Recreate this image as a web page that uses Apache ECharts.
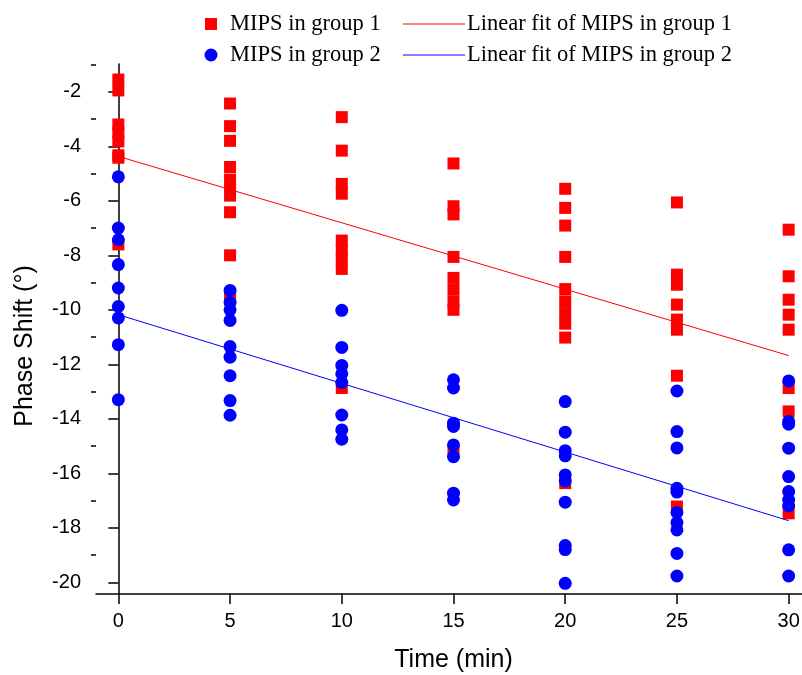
<!DOCTYPE html>
<html>
<head>
<meta charset="utf-8">
<script src="https://cdn.jsdelivr.net/npm/echarts@6/dist/echarts.min.js"></script>
<style>html,body{margin:0;padding:0;background:#fff}#c{width:802px;height:675px}</style>
</head>
<body>
<div id="c"></div>
<script>
const times = [0, 5, 10, 15, 20, 25, 30];
const group1 = [
  [-1.55, -1.95, -3.2, -3.5, -3.82, -4.33, -4.42, -7.6],
  [-2.43, -3.26, -3.8, -4.76, -5.22, -5.53, -5.81, -6.42, -8.0, -9.57],
  [-2.93, -4.16, -5.38, -5.74, -7.46, -7.8, -8.15, -8.5, -12.87],
  [-4.63, -6.2, -6.5, -8.06, -8.83, -9.26, -9.69, -10.0, -15.2],
  [-5.56, -6.26, -6.91, -8.06, -9.24, -9.69, -10.12, -10.51, -11.02, -16.36],
  [-6.06, -8.71, -9.08, -9.81, -10.36, -10.73, -12.42, -17.22],
  [-7.06, -8.77, -9.63, -10.18, -10.73, -12.87, -13.73, -17.47]
];
const group2 = [
  [-5.12, -7.0, -7.43, -8.34, -9.2, -9.88, -10.3, -11.28, -13.3],
  [-9.29, -9.73, -10.0, -10.39, -11.35, -11.74, -12.42, -13.33, -13.87],
  [-10.02, -11.38, -12.04, -12.35, -12.67, -13.86, -14.41, -14.75],
  [-12.57, -12.87, -14.16, -14.28, -14.96, -15.39, -16.73, -16.98],
  [-13.37, -14.49, -15.17, -15.36, -16.06, -16.28, -17.06, -18.65, -18.8, -20.04],
  [-12.98, -14.47, -15.07, -16.55, -16.69, -17.44, -17.81, -18.08, -18.94, -19.77],
  [-12.61, -14.1, -14.2, -15.08, -16.12, -16.67, -16.98, -17.2, -18.81, -19.77]
];
const fitX = [0, 30];
const fit1 = [-4.37, -11.68];
const fit2 = [-10.18, -17.74];
const xTicks = [0, 5, 10, 15, 20, 25, 30];
const yTicks = [-20, -18, -16, -14, -12, -10, -8, -6, -4, -2];
const yMinorTicks = [-19, -17, -15, -13, -11, -9, -7, -5, -3, -1];
const names = ['MIPS in group 1', 'MIPS in group 2', 'Linear fit of MIPS in group 1', 'Linear fit of MIPS in group 2'];

function toPoints(groups) {
  const out = [];
  groups.forEach((vals, i) => vals.forEach(v => out.push([times[i], v])));
  return out;
}

const chart = echarts.init(document.getElementById('c'));
const axisLine = { show: true, lineStyle: { color: '#000', width: 1.5 } };
const tickFont = { fontFamily: 'Liberation Sans, Arial', fontSize: 20, color: '#000' };
const titleFont = { fontFamily: 'Liberation Sans, Arial', fontSize: 25, color: '#000' };
const Y_MIN = -20.43, Y_MAX = -0.98;

const legendFont = { fontFamily: 'Liberation Serif, Times New Roman', fontSize: 22.5, fill: '#000' };
const row1 = 24, row2 = 55;

chart.setOption({
  animation: false,
  backgroundColor: '#fff',
  grid: { left: 96, top: 64, right: -9, bottom: 81, containLabel: false, outerBoundsMode: 'none' },
  xAxis: {
    type: 'value', min: -1, max: 31,
    axisLine: axisLine,
    axisTick: { show: true, length: 10, lineStyle: { color: '#000', width: 1.5 }, customValues: xTicks },
    axisLabel: Object.assign({ margin: 17, customValues: xTicks }, tickFont),
    splitLine: { show: false },
    name: 'Time (min)', nameLocation: 'middle', nameGap: 54,
    nameTextStyle: titleFont
  },
  yAxis: [{
    type: 'value', min: Y_MIN, max: Y_MAX,
    axisLine: axisLine,
    axisTick: { show: true, length: 10, lineStyle: { color: '#000', width: 1.5 }, customValues: yTicks },
    axisLabel: Object.assign({ margin: 15, customValues: yTicks }, tickFont),
    splitLine: { show: false },
    name: 'Phase Shift (°)', nameLocation: 'middle', nameGap: 58,
    nameTextStyle: Object.assign({ padding: [0, 34, 0, 0] }, titleFont)
  }, {
    type: 'value', min: Y_MIN, max: Y_MAX, position: 'left', offset: 0,
    axisLine: { show: false },
    axisTick: { show: true, length: 5, lineStyle: { color: '#000', width: 1.5 }, customValues: yMinorTicks },
    axisLabel: { show: false },
    splitLine: { show: false }
  }],
  series: [
    { name: names[0], type: 'scatter', symbol: 'rect', symbolSize: 12, itemStyle: { color: '#ff0000', opacity: 1 }, data: toPoints(group1), z: 2 },
    { name: names[1], type: 'scatter', symbol: 'circle', symbolSize: 13, itemStyle: { color: '#0000ff', opacity: 1 }, data: toPoints(group2), z: 3 },
    { name: names[2], type: 'line', symbol: 'none', lineStyle: { color: '#ff0000', width: 1 }, data: fitX.map((x, i) => [x, fit1[i]]), z: 4 },
    { name: names[3], type: 'line', symbol: 'none', lineStyle: { color: '#0000ff', width: 1 }, data: fitX.map((x, i) => [x, fit2[i]]), z: 4 }
  ],
  graphic: [
    { type: 'rect', shape: { x: 205, y: row1 - 6, width: 12, height: 12 }, style: { fill: '#ff0000' } },
    { type: 'text', x: 230, y: row1, style: Object.assign({ text: names[0], verticalAlign: 'middle' }, legendFont) },
    { type: 'line', shape: { x1: 403, y1: row1, x2: 465, y2: row1 }, style: { stroke: '#ff0000', lineWidth: 1.2 } },
    { type: 'text', x: 467, y: row1, style: Object.assign({ text: names[2], verticalAlign: 'middle' }, legendFont) },
    { type: 'circle', shape: { cx: 211, cy: row2, r: 6.5 }, style: { fill: '#0000ff' } },
    { type: 'text', x: 230, y: row2, style: Object.assign({ text: names[1], verticalAlign: 'middle' }, legendFont) },
    { type: 'line', shape: { x1: 403, y1: row2, x2: 465, y2: row2 }, style: { stroke: '#0000ff', lineWidth: 1.2 } },
    { type: 'text', x: 467, y: row2, style: Object.assign({ text: names[3], verticalAlign: 'middle' }, legendFont) }
  ]
});
</script>
</body>
</html>
